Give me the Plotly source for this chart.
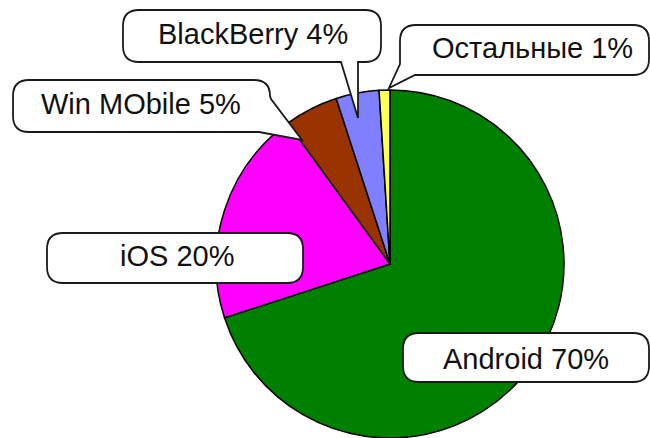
import plotly.graph_objects as go

W, H = 650, 438

labels = ["Android", "iOS", "Win MObile", "BlackBerry", "Остальные"]
values = [70, 20, 5, 4, 1]
colors = ["#008000", "#FF00FF", "#993300", "#8080FF", "#FFFF55"]
label_texts = ["Android 70%", "iOS 20%", "Win MObile 5%", "BlackBerry 4%", "Остальные 1%"]

# bubble geometry in pixels (x0, y0, x1, y1), text centre, pointer spec
bubbles = {
    "Android": dict(box=(403, 333, 649, 382), text=(526, 359), ptr=None),
    "iOS": dict(box=(47, 233, 303, 283), text=(177, 256), ptr=None),
    "Win MObile": dict(box=(13, 80, 270, 132), text=(141, 104),
                       ptr=("br", [(271, 99), (302, 140), (259, 132)])),
    "BlackBerry": dict(box=(123, 10, 381, 62), text=(253, 34),
                       ptr=("bottom", [(358, 62), (358, 118), (341, 62)])),
    "Остальные": dict(box=(400, 25, 649, 75), text=(532, 48),
                      ptr=("bl", [(415, 75), (389, 88), (400, 64)])),
}


def P(x, y):
    return f"{x / W:.5f},{1 - y / H:.5f}"


def bubble_path(box, ptr, r=16):
    x0, y0, x1, y1 = box
    s = [f"M {P(x0 + r, y0)}", f"L {P(x1 - r, y0)}", f"Q {P(x1, y0)} {P(x1, y0 + r)}"]
    if ptr and ptr[0] == "br":
        s += [f"L {P(*p)}" for p in ptr[1]]
    else:
        s += [f"L {P(x1, y1 - r)}", f"Q {P(x1, y1)} {P(x1 - r, y1)}"]
        if ptr and ptr[0] == "bottom":
            s += [f"L {P(*p)}" for p in ptr[1]]
    if ptr and ptr[0] == "bl":
        s += [f"L {P(*p)}" for p in ptr[1]]
    else:
        s += [f"L {P(x0 + r, y1)}", f"Q {P(x0, y1)} {P(x0, y1 - r)}"]
    s += [f"L {P(x0, y0 + r)}", f"Q {P(x0, y0)} {P(x0 + r, y0)}", "Z"]
    return " ".join(s)


# pie placement (pixels)
cx, cy, R = 390, 264, 174

fig = go.Figure(go.Pie(
    labels=labels,
    values=values,
    marker=dict(colors=colors, line=dict(color="#000000", width=1.5)),
    sort=False,
    direction="clockwise",
    rotation=0,
    textinfo="none",
    showlegend=False,
    domain=dict(x=[(cx - R) / W, (cx + R) / W], y=[(H - cy - R) / H, (H - cy + R) / H]),
))

shapes = []
annotations = []
for lab, txt in zip(labels, label_texts):
    b = bubbles[lab]
    shapes.append(dict(type="path", xref="paper", yref="paper",
                       path=bubble_path(b["box"], b["ptr"]),
                       fillcolor="white", line=dict(color="#1a1a1a", width=1.8),
                       layer="above"))
    tx, ty = b["text"]
    annotations.append(dict(x=tx / W, y=1 - ty / H, xref="paper", yref="paper",
                            text=txt, showarrow=False, xanchor="center", yanchor="middle",
                            font=dict(family="Liberation Sans, Arial, sans-serif",
                                      size=29, color="#111111")))

fig.update_layout(
    width=W, height=H,
    margin=dict(l=0, r=0, t=0, b=0),
    paper_bgcolor="white",
    plot_bgcolor="white",
    shapes=shapes,
    annotations=annotations,
)

fig.write_html("out.html")
